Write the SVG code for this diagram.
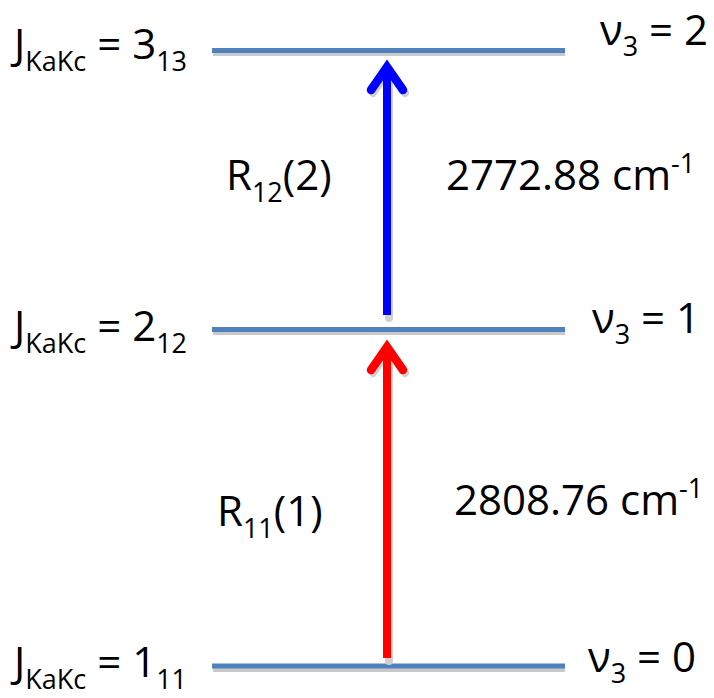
<svg xmlns="http://www.w3.org/2000/svg" width="714" height="698" viewBox="0 0 714 698">
<defs>
<style>
.lvl{stroke:#4F81BD;stroke-width:5;}
.shd{stroke:#C9C9C9;stroke-width:4;}
.ashd{stroke:#D0D0D0;fill:none;stroke-width:8;stroke-linecap:round;stroke-linejoin:miter;}
.t{font-family:"Open Sans","Noto Sans",sans-serif;font-size:42px;fill:#000;}
.s{font-size:27px;}
</style>
</defs>
<rect width="714" height="698" fill="#fff"/>
<g id="levels">
<g id="level-2"><line class="shd" x1="213" y1="54" x2="565" y2="54"/><line class="lvl" x1="212" y1="50.5" x2="565" y2="50.5"/></g>
<g id="level-1"><line class="shd" x1="213" y1="333" x2="565" y2="333"/><line class="lvl" x1="212" y1="329.5" x2="565" y2="329.5"/></g>
<g id="level-0"><line class="shd" x1="213" y1="670" x2="565" y2="670"/><line class="lvl" x1="212" y1="666" x2="565" y2="666"/></g>
</g>
<g id="connectors">
<g id="arrow-R12">
<line class="ashd" x1="389" y1="70" x2="389" y2="318" stroke-linecap="butt"/>
<polyline class="ashd" points="373,93 389,70 405,93"/>
<line x1="387" y1="68" x2="387" y2="315" stroke="#0000FF" stroke-width="8"/>
<polyline points="371,90 387,67 403,90" fill="none" stroke="#0000FF" stroke-width="8.5" stroke-linecap="round" stroke-linejoin="miter"/>
</g>
<g id="arrow-R11">
<line class="ashd" x1="389" y1="350" x2="389" y2="661" stroke-linecap="butt"/>
<polyline class="ashd" points="373,373 389,350 405,373"/>
<line x1="387" y1="348" x2="387" y2="658" stroke="#FF0000" stroke-width="8"/>
<polyline points="371,370 387,347 403,370" fill="none" stroke="#FF0000" stroke-width="8.5" stroke-linecap="round" stroke-linejoin="miter"/>
</g>
</g>
<g id="labels">
<g id="J3"><text class="t" x="14" y="59">J<tspan class="s" dy="12">KaKc</tspan><tspan dy="-12"> = 3</tspan><tspan class="s" dy="12">13</tspan></text></g>
<g id="J2"><text class="t" x="14" y="341">J<tspan class="s" dy="12">KaKc</tspan><tspan dy="-12"> = 2</tspan><tspan class="s" dy="12">12</tspan></text></g>
<g id="J1"><text class="t" x="14" y="677">J<tspan class="s" dy="12">KaKc</tspan><tspan dy="-12"> = 1</tspan><tspan class="s" dy="12">11</tspan></text></g>
<g id="v2"><text class="t" x="600" y="45">ν<tspan class="s" dy="11">3</tspan><tspan dy="-11"> = 2</tspan></text></g>
<g id="v1"><text class="t" x="592" y="333">ν<tspan class="s" dy="11">3</tspan><tspan dy="-11"> = 1</tspan></text></g>
<g id="v0"><text class="t" x="588" y="672">ν<tspan class="s" dy="11">3</tspan><tspan dy="-11"> = 0</tspan></text></g>
<g id="R12"><text class="t" x="226" y="190">R<tspan class="s" dy="12">12</tspan><tspan dy="-12">(2)</tspan></text></g>
<g id="R11"><text class="t" x="217" y="526">R<tspan class="s" dy="12">11</tspan><tspan dy="-12">(1)</tspan></text></g>
<g id="E2"><text class="t" x="446" y="190">2772.88 cm<tspan class="s" dy="-17">-1</tspan></text></g>
<g id="E1"><text class="t" x="454" y="515">2808.76 cm<tspan class="s" dy="-17">-1</tspan></text></g>
</g>
</svg>
